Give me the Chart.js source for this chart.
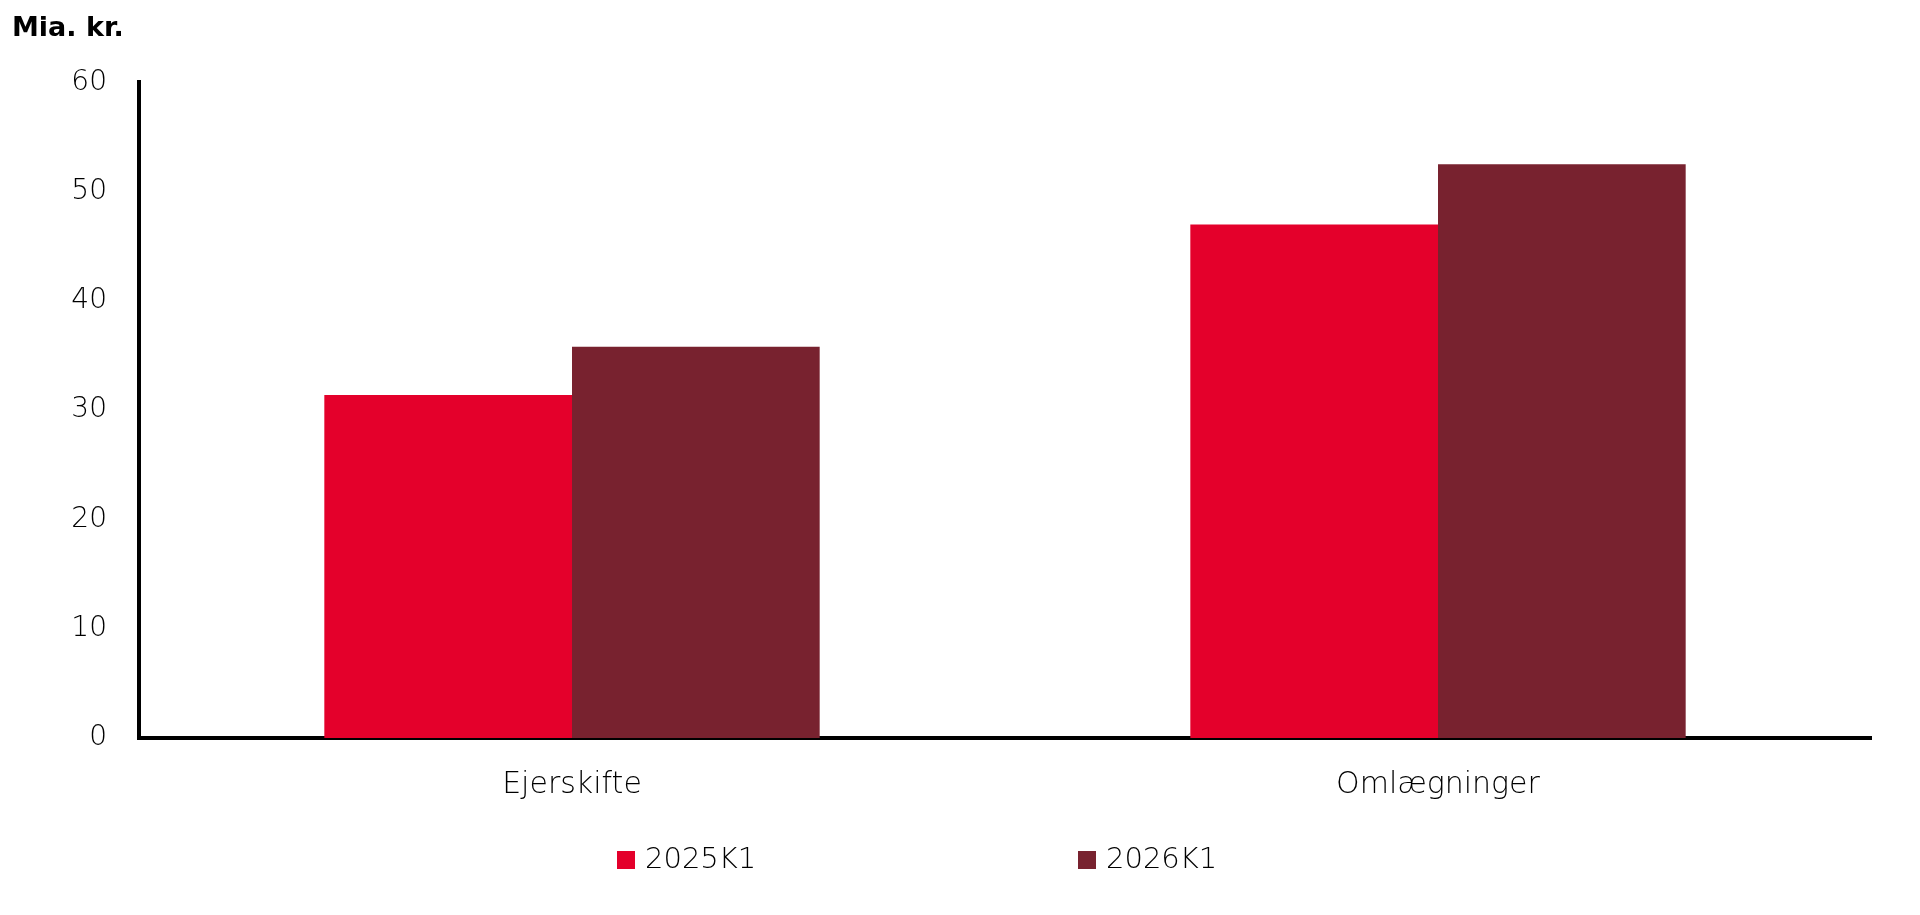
<!DOCTYPE html>
<html>
<head>
<meta charset="utf-8">
<script src="https://cdn.jsdelivr.net/npm/chart.js@4/dist/chart.umd.min.js"></script>
<style>
  html, body { margin: 0; padding: 0; background: #fff; }
  #wrap { width: 1920px; height: 915px; }
</style>
</head>
<body>
<div id="wrap"><canvas id="myChart"></canvas></div>
<script>
const categories = ["Ejerskifte", "Omlægninger"];
const seriesNames = ["2025K1", "2026K1"];
const values2025 = [31.4, 47.0];
const values2026 = [35.8, 52.5];
const yTicks = [0, 10, 20, 30, 40, 50, 60];

const colors = ["#e4002b", "#78222f"];
const FONT = "'DejaVu Sans', sans-serif";

// legend under the chart, two items spread wide like the original
const bottomLegend = {
	id: "bottomLegend",
	afterDraw(chart) {
		const ctx = chart.ctx;
		const xs = [617, 1078];
		const y = 860;
		ctx.save();
		ctx.font = "200 29px " + FONT;
		ctx.textBaseline = "middle";
		ctx.textAlign = "left";
		chart.data.datasets.forEach((ds, i) => {
			ctx.fillStyle = ds.backgroundColor;
			ctx.fillRect(xs[i], y - 9, 18, 18);
			ctx.fillStyle = "#000";
			ctx.fillText(ds.label, xs[i] + 28, y);
		});
		ctx.restore();
	}
};

const ctx = document.getElementById("myChart").getContext("2d");

new Chart(ctx, {
	type: "bar",
	data: {
		labels: categories,
		datasets: [
			{ label: seriesNames[0], data: values2025, backgroundColor: colors[0], borderWidth: 0 },
			{ label: seriesNames[1], data: values2026, backgroundColor: colors[1], borderWidth: 0 }
		]
	},
	options: {
		responsive: true,
		maintainAspectRatio: false,
		animation: false,
		categoryPercentage: 0.572,
		barPercentage: 1,
		layout: { padding: { left: 12, right: 49, top: 0, bottom: 97 } },
		plugins: {
			legend: { display: false },
			tooltip: { enabled: false },
			title: {
				display: true,
				text: "Mia. kr.",
				align: "start",
				color: "#000",
				font: { family: FONT, size: 27, weight: "bold" },
				padding: { top: 13, bottom: 37 }
			}
		},
		scales: {
			x: {
				grid: { display: false, drawTicks: false },
				border: { display: true, color: "#000", width: 4 },
				ticks: { color: "#000", padding: 29, font: { family: FONT, size: 30, weight: "200" } },
				afterFit(scale) { scale.height = 80; }
			},
			y: {
				min: 0,
				max: 60,
				afterBuildTicks(scale) { scale.ticks = yTicks.map(v => ({ value: v })); },
				grid: { display: false, drawTicks: false },
				border: { display: true, color: "#000", width: 4 },
				ticks: { color: "#000", padding: 32, font: { family: FONT, size: 28, weight: "200" } },
				afterFit(scale) { scale.width = 127; }
			}
		}
	},
	plugins: [bottomLegend]
});
</script>
</body>
</html>
